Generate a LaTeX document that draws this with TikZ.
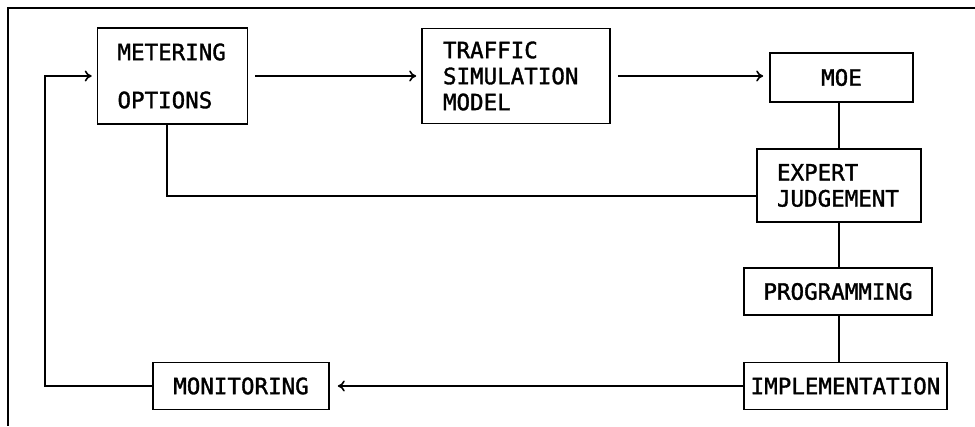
\documentclass[tikz,border=0pt]{standalone}
\usepackage{fontspec}
\setmonofont[FakeBold=1.5]{DejaVu Sans Mono}
\usepackage{tikz}
\usetikzlibrary{arrows.meta}

\begin{document}
\begin{tikzpicture}[
    x=1pt, y=-1pt,
    block/.style={draw, rectangle, line width=1.6pt, inner sep=0pt, align=center,
        font=\ttfamily\fontsize{22.5}{26}\selectfont},
    leftblock/.style={block, align=left, inner xsep=20pt},
    link/.style={line width=1.6pt},
    arrow/.style={line width=1.6pt,-{To[length=7pt,width=11pt]}}
]
\useasboundingbox (0,0) rectangle (975,426);

% Frame
\draw[link] (975,8) -- (8,8) -- (8,426);

% Nodes
\node (meter) [leftblock, text width=110pt, minimum height=96pt] at (172.5,76) {METERING\\[22pt]OPTIONS};
\node (traffic) [leftblock, inner xsep=21pt, text width=146pt, minimum height=95pt] at (516,76) {TRAFFIC\\SIMULATION\\MODEL};
\node (moe) [block, minimum width=143pt, minimum height=49pt] at (841.5,77.5) {MOE};
\node (expert) [leftblock, text width=124pt, minimum height=73pt] at (839,185.5) {EXPERT\\JUDGEMENT};
\node (prog) [block, minimum width=188pt, minimum height=47pt] at (838,291.5) {PROGRAMMING};
\node (impl) [block, minimum width=203pt, minimum height=47pt] at (845.5,386) {IMPLEMENTATION};
\node (monitor) [block, minimum width=176pt, minimum height=47pt] at (241,386) {MONITORING};
\coordinate (ret) at (45,76);

% Links
\draw[arrow, shorten <=7pt, shorten >=5pt] (meter.east) -- (meter.east -| traffic.west);
\draw[arrow, shorten <=7pt, shorten >=6pt] (traffic.east) -- (traffic.east -| moe.west);
\draw[link] (moe.south -| expert.north) -- (expert.north);
\draw[link] (expert.south) -- (expert.south |- prog.north);
\draw[link] (expert.south |- prog.south) -- (expert.south |- impl.north);
\draw[link] ([yshift=-10.5pt]expert.west) -| ([xshift=-5.5pt]meter.south);
\draw[arrow, shorten >=8pt] (impl.west) -- (monitor.east);
\draw[arrow, shorten >=5pt] (monitor.west) -| (ret) -- (meter.west);

\end{tikzpicture}
\end{document}
